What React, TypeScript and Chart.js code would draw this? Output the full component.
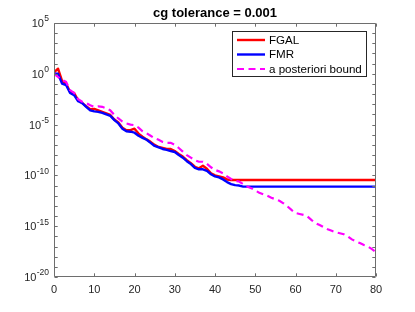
import { useEffect, useRef } from "react";
import { Chart, registerables } from "chart.js";

Chart.register(...registerables);

const titleText = "cg tolerance = 0.001";
const seriesLabels = ["FGAL", "FMR", "a posteriori bound"];
const seriesColors = ["#ff0000", "#0000ff", "#ff00ff"];

const xTicks = [0, 10, 20, 30, 40, 50, 60, 70, 80];
const yLabelExponents = [5, 0, -5, -10, -15, -20];
const yMinorExponents = [5, 4, 3, 2, 1, 0, -1, -2, -3, -4, -5, -6, -7, -8, -9, -10, -11, -12, -13, -14, -15, -16, -17, -18, -19, -20];

const fgalIter = [
  0, 1, 2, 3, 4, 5, 6, 7, 8, 9, 10, 11, 12, 13, 14, 15, 16, 17, 18, 19, 20, 21, 22,
  23, 24, 25, 26, 27, 28, 29, 30, 31, 32, 33, 34, 35, 36, 37, 38, 39, 40, 41, 42, 43, 44, 80,
];
const fgalValues = [
  1.4, 3.2, 0.2, 0.11, 1.6e-2, 1.3e-2, 2.5e-3, 1.4e-3, 6.3e-4, 3.2e-4, 3.5e-4, 2.5e-4,
  1.8e-4, 1.3e-4, 8.9e-5, 3.2e-5, 1.6e-5, 5.0e-6, 2.8e-6, 2.8e-6, 4.0e-6, 1.3e-6, 6.3e-7,
  3.5e-7, 2.0e-7, 1.0e-7, 6.3e-8, 5.0e-8, 4.0e-8, 4.0e-8, 2.5e-8, 1.3e-8, 7.1e-9, 3.2e-9,
  1.6e-9, 7.1e-10, 5.0e-10, 8.9e-10, 4.5e-10, 1.6e-10, 1.0e-10, 7.9e-11, 6.3e-11, 4.0e-11,
  3.5e-11, 3.5e-11,
];

const fmrIter = [
  0, 1, 2, 3, 4, 5, 6, 7, 8, 9, 10, 11, 12, 13, 14, 15, 16, 17, 18, 19, 20, 21, 22, 23,
  24, 25, 26, 27, 28, 29, 30, 31, 32, 33, 34, 35, 36, 37, 38, 39, 40, 41, 42, 43, 44, 45,
  46, 47, 80,
];
const fmrValues = [
  1.0, 1.0, 0.11, 7.9e-2, 1.3e-2, 7.9e-3, 2.0e-3, 1.3e-3, 5.6e-4, 2.5e-4, 2.0e-4, 1.8e-4,
  1.4e-4, 1.0e-4, 7.1e-5, 2.8e-5, 1.3e-5, 4.0e-6, 2.2e-6, 2.0e-6, 1.6e-6, 7.9e-7, 5.0e-7,
  3.2e-7, 1.6e-7, 7.9e-8, 5.6e-8, 4.0e-8, 3.2e-8, 2.5e-8, 2.0e-8, 1.0e-8, 5.6e-9, 2.5e-9,
  1.3e-9, 5.6e-10, 4.0e-10, 4.0e-10, 2.8e-10, 1.3e-10, 7.9e-11, 6.3e-11, 4.0e-11, 2.2e-11,
  1.4e-11, 1.1e-11, 1.0e-11, 7.9e-12, 7.9e-12,
];

const boundIter = [
  0, 1, 2, 3, 4, 5, 6, 7, 8, 9, 10, 11, 12, 13, 14, 15, 16, 17, 18, 19, 20, 21, 22, 23,
  24, 25, 26, 27, 28, 29, 30, 31, 32, 33, 34, 35, 36, 37, 38, 39, 40, 41, 42, 43, 44, 45,
  46, 47, 48, 49, 50, 51, 52, 53, 54, 55, 56, 57, 58, 59, 60, 61, 62, 63, 64, 65, 66, 67,
  68, 69, 70, 71, 72, 73, 74, 75, 76, 77, 78, 79, 80,
];
const boundValues = [
  1.0, 0.5, 0.25, 0.16, 2.5e-2, 1.3e-2, 3.2e-3, 1.8e-3, 1.3e-3, 7.9e-4, 5.6e-4, 6.3e-4,
  5.6e-4, 4.0e-4, 2.5e-4, 8.9e-5, 4.0e-5, 2.0e-5, 1.3e-5, 1.0e-5, 8.9e-6, 5.0e-6, 2.2e-6,
  1.4e-6, 7.9e-7, 4.5e-7, 3.2e-7, 2.0e-7, 1.6e-7, 1.6e-7, 1.0e-7, 5.0e-8, 2.2e-8, 1.0e-8,
  5.6e-9, 3.2e-9, 2.2e-9, 2.2e-9, 1.4e-9, 6.3e-10, 3.5e-10, 2.5e-10, 1.6e-10, 7.9e-11,
  4.5e-11, 2.8e-11, 2.5e-11, 1.4e-11, 7.9e-12, 5.6e-12, 3.2e-12, 2.0e-12, 1.4e-12, 1.0e-12,
  6.3e-13, 4.5e-13, 3.2e-13, 1.8e-13, 8.9e-14, 4.0e-14, 2.0e-14, 1.6e-14, 1.3e-14, 8.9e-15,
  4.0e-15, 2.0e-15, 1.3e-15, 7.9e-16, 5.0e-16, 3.5e-16, 2.5e-16, 2.0e-16, 1.6e-16, 1.0e-16,
  5.0e-17, 3.2e-17, 2.2e-17, 1.4e-17, 1.0e-17, 5.6e-18, 2.8e-18,
];

const FONT = "'Liberation Sans', Arial, Helvetica, sans-serif";
const AXIS_COLOR = "#262626";
const FRAME_COLOR = "#6e6e6e";

const framePlugin = {
  id: "matlabFrame",
  afterDatasetsDraw(chart: any) {
    const ctx = chart.ctx as CanvasRenderingContext2D;
    const area = chart.chartArea;
    const xs = chart.scales.x;
    const ys = chart.scales.y;
    const L = Math.round(area.left) + 0.5;
    const R = Math.round(area.right) - 0.5;
    const T = Math.round(area.top) + 0.5;
    const B = Math.round(area.bottom) - 0.5;
    const tl = 3.2;

    ctx.save();
    ctx.strokeStyle = FRAME_COLOR;
    ctx.lineWidth = 1;
    ctx.beginPath();
    ctx.rect(L, T, R - L, B - T);
    // x ticks (bottom & top, inward)
    for (const v of xTicks) {
      const px = Math.round(xs.getPixelForValue(v)) + 0.5;
      ctx.moveTo(px, B);
      ctx.lineTo(px, B - tl);
      ctx.moveTo(px, T);
      ctx.lineTo(px, T + tl);
    }
    // y ticks each decade (left & right, inward)
    for (const e of yMinorExponents) {
      const py = Math.round(ys.getPixelForValue(Math.pow(10, e))) + 0.5;
      ctx.moveTo(L, py);
      ctx.lineTo(L + tl, py);
      ctx.moveTo(R, py);
      ctx.lineTo(R - tl, py);
    }
    ctx.stroke();

    // y tick labels with superscript exponents
    ctx.fillStyle = AXIS_COLOR;
    ctx.textBaseline = "middle";
    ctx.textAlign = "right";
    const labelRight = area.left - 5;
    for (const e of yLabelExponents) {
      const py = ys.getPixelForValue(Math.pow(10, e));
      const expText = e < 0 ? "-" + String(-e) : String(e);
      ctx.font = `8.5px ${FONT}`;
      const ew = ctx.measureText(expText).width;
      ctx.fillText(expText, labelRight, py - 4);
      ctx.font = `11px ${FONT}`;
      ctx.fillText("10", labelRight - ew - 0.3, py + 1);
    }

    // title
    ctx.fillStyle = "#000000";
    ctx.textAlign = "center";
    ctx.font = `bold 13px ${FONT}`;
    ctx.fillText(titleText, (area.left + area.right) / 2, 13);

    // legend box
    const bx = 232.5;
    const by = 31.5;
    const bw = 134;
    const bh = 45;
    ctx.fillStyle = "#ffffff";
    ctx.fillRect(bx, by, bw, bh);
    ctx.strokeStyle = AXIS_COLOR;
    ctx.lineWidth = 1;
    ctx.strokeRect(bx, by, bw, bh);
    const rows = [40, 54.5, 69];
    chart.data.datasets.forEach((ds: any, i: number) => {
      const ry = rows[i];
      ctx.save();
      ctx.strokeStyle = ds.borderColor;
      ctx.lineWidth = ds.borderWidth;
      ctx.setLineDash(ds.borderDash || []);
      ctx.beginPath();
      ctx.moveTo(237, ry);
      ctx.lineTo(265, ry);
      ctx.stroke();
      ctx.restore();
      ctx.fillStyle = "#000000";
      ctx.textAlign = "left";
      ctx.textBaseline = "middle";
      ctx.font = `11.6px ${FONT}`;
      ctx.fillText(ds.label, 269, ry + 0.5);
    });
    ctx.restore();
  },
};

function toPoints(xsArr: number[], ysArr: number[]) {
  return xsArr.map((x, i) => ({ x, y: ysArr[i] }));
}

export default function App() {
  const canvasRef = useRef<HTMLCanvasElement | null>(null);

  useEffect(() => {
    document.body.style.margin = "0";
    const canvas = canvasRef.current;
    if (!canvas) return;
    const chart = new Chart(canvas, {
      type: "line",
      data: {
        datasets: [
          {
            label: seriesLabels[0],
            data: toPoints(fgalIter, fgalValues),
            borderColor: seriesColors[0],
            backgroundColor: seriesColors[0],
            borderWidth: 2.4,
            pointRadius: 0,
            tension: 0,
            order: 3,
            borderJoinStyle: "round",
          },
          {
            label: seriesLabels[1],
            data: toPoints(fmrIter, fmrValues),
            borderColor: seriesColors[1],
            backgroundColor: seriesColors[1],
            borderWidth: 2.4,
            pointRadius: 0,
            tension: 0,
            order: 2,
            borderJoinStyle: "round",
          },
          {
            label: seriesLabels[2],
            data: toPoints(boundIter, boundValues),
            borderColor: seriesColors[2],
            backgroundColor: seriesColors[2],
            borderWidth: 2.2,
            borderDash: [7, 4.5],
            pointRadius: 0,
            tension: 0,
            order: 1,
          },
        ],
      },
      options: {
        responsive: false,
        animation: false,
        layout: { padding: { top: 23, right: 39, left: 0, bottom: 0 } },
        plugins: {
          legend: { display: false },
          title: { display: false },
          tooltip: { enabled: false },
        },
        scales: {
          x: {
            type: "linear",
            min: 0,
            max: 80,
            afterFit: (s: any) => {
              s.height = 35;
            },
            afterBuildTicks: (s: any) => {
              s.ticks = xTicks.map((v) => ({ value: v }));
            },
            grid: { display: false, drawTicks: false },
            border: { display: false },
            ticks: {
              color: AXIS_COLOR,
              font: { family: FONT, size: 11, lineHeight: 1.2 },
              padding: 6,
              maxRotation: 0,
              autoSkip: false,
            },
          },
          y: {
            type: "logarithmic",
            min: 1e-20,
            max: 1e5,
            afterFit: (s: any) => {
              s.width = 54;
            },
            grid: { display: false, drawTicks: false },
            border: { display: false },
            ticks: { display: false },
          },
        },
      },
      plugins: [framePlugin],
    });
    return () => chart.destroy();
  }, []);

  return (
    <div style={{ width: 415, height: 312, background: "#ffffff" }}>
      <canvas ref={canvasRef} width={415} height={312} style={{ display: "block" }} />
    </div>
  );
}
